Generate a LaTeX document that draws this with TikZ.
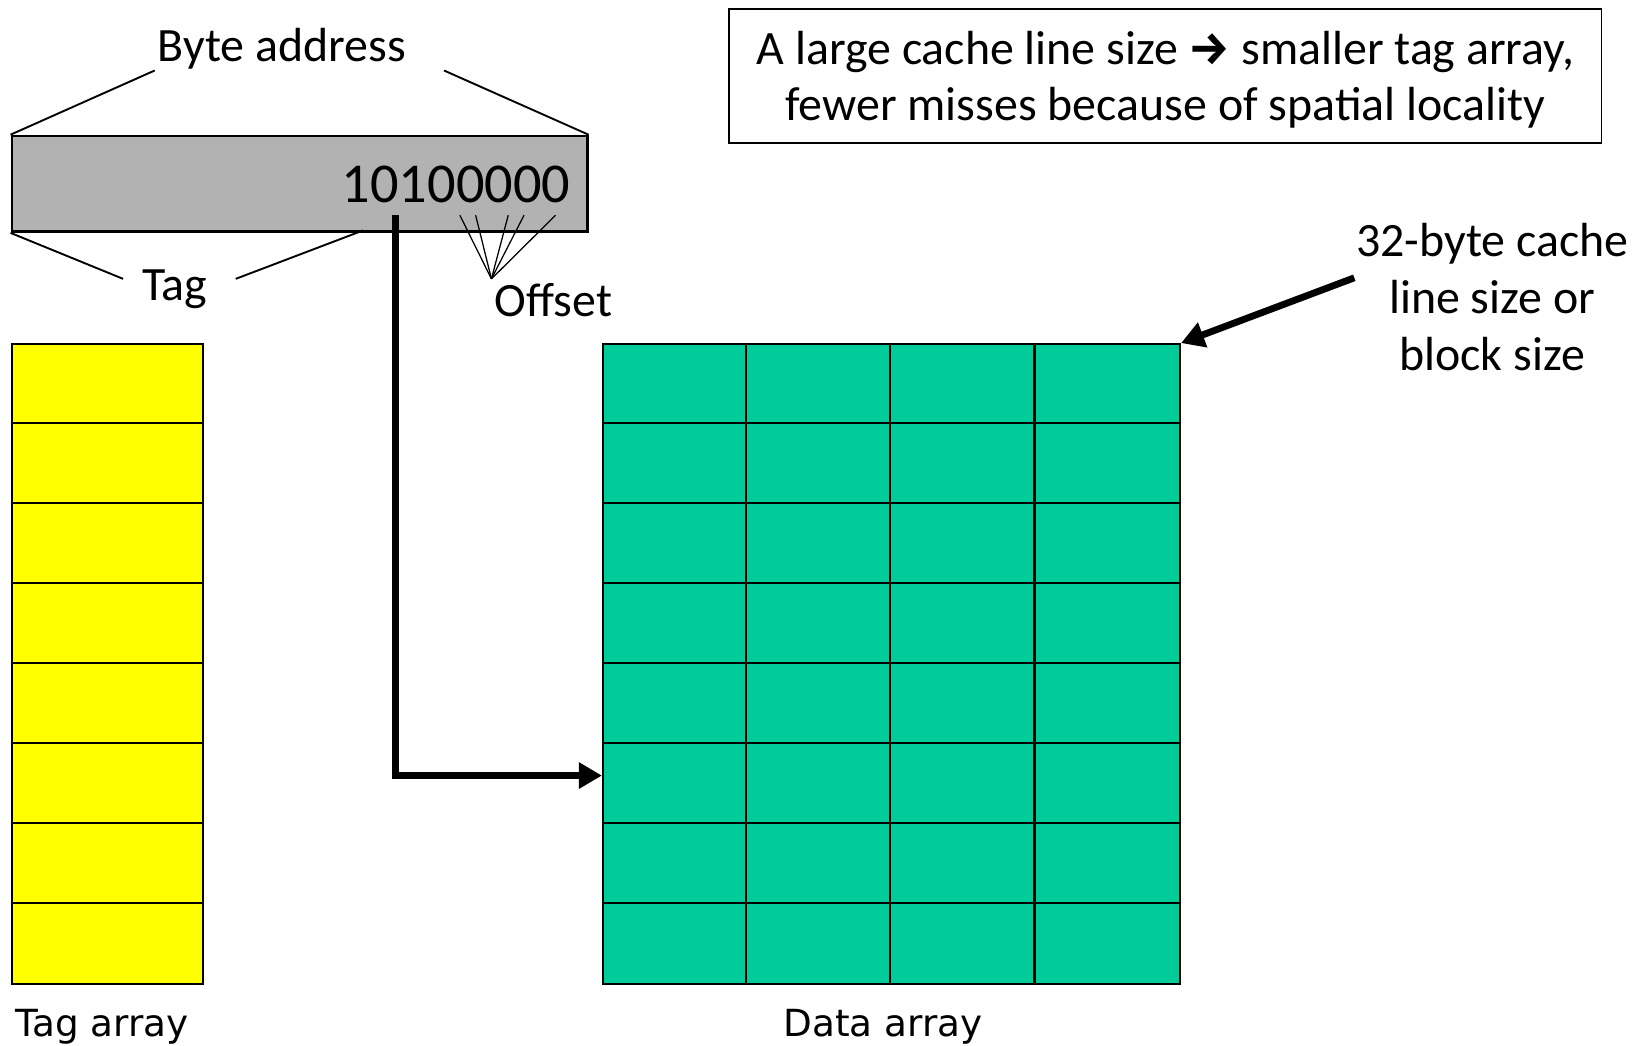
\documentclass[tikz,border=0pt]{standalone}
\usepackage{fontspec}
\setmainfont{Carlito}
\newfontfamily\dvfont{DejaVu Sans}
\newfontfamily\arrowfont{Fira Sans}
\usetikzlibrary{arrows.meta}
\definecolor{bargray}{RGB}{178,178,178}
\definecolor{tagyellow}{RGB}{255,255,0}
\definecolor{datateal}{RGB}{0,204,153}
\begin{document}
\begin{tikzpicture}[x=1pt,y=-1pt,
  thinline/.style={line width=1.8pt},
  hairline/.style={line width=1.2pt},
  thickarrow/.style={line width=6.5pt,-{Triangle[length=22pt,width=24pt]}},
  lbl/.style={font=\fontsize{45.5}{54}\selectfont,inner sep=0pt},
  arraylbl/.style={font=\dvfont\fontsize{35.5}{40}\selectfont,inner sep=0pt,anchor=base},
  gridline/.style={line width=2.3pt},
]
\useasboundingbox (0,0) rectangle (1568,994);

% address bar
\node[draw,line width=2.3pt,fill=bargray,minimum width=547pt,minimum height=91pt,inner sep=0pt,anchor=north west] (addr) at (10,128) {};
\node[font=\fontsize{53.5}{60}\selectfont,anchor=base east,inner sep=0pt] (bits) at (542,192) {10100000};

% Byte address label
\node[lbl,anchor=base] (byte) at (268,58) {Byte address};
\coordinate (bl) at (147,67);
\coordinate (br) at (422,67);
\draw[thinline] (addr.north west) -- (bl);
\draw[thinline] (br) -- (addr.north east);

% Tag label
\node[lbl,anchor=base] (tag) at (166,286) {Tag};
\coordinate (tl) at (117,265);
\coordinate (tr) at (224,265);
\coordinate (tagend) at (345,219);
\draw[thinline] (addr.south west) -- (tl);
\draw[thinline] (tr) -- (tagend);

% Offset label
\node[lbl,anchor=base west] (offset) at (470,301) {Offset};
\coordinate (oc) at (467,265);
\foreach \ox [count=\k] in {437,452,483,498,528} {
  \coordinate (o\k) at (\ox,204.5);
  \draw[hairline] (oc) -- (o\k);
}

% Tag array
\node[draw,line width=2.3pt,fill=tagyellow,minimum width=182pt,minimum height=608pt,inner sep=0pt,anchor=north west] (tagarr) at (10,326) {};
\foreach \i in {1,...,7} {
  \draw[gridline] (10,{326+76*\i}) -- (192,{326+76*\i});
}
\node[arraylbl] (taglbl) at (97,985) {Tag array};

% Data array
\node[draw,line width=2.3pt,fill=datateal,minimum width=548pt,minimum height=608pt,inner sep=0pt,anchor=north west] (dataarr) at (572,326) {};
\foreach \i in {1,...,7} {
  \draw[gridline] (572,{326+76*\i}) -- (1120,{326+76*\i});
}
\foreach \j in {1,2,3} {
  \draw[gridline] ({572+137*\j},326) -- ({572+137*\j},934);
}
\node[arraylbl] (datalbl) at (839,985) {Data array};

% index arrow
\coordinate (idx) at (376,204.5);
\coordinate (row) at (572,737);
\draw[thickarrow] (idx) |- (row);

% note box
\node[draw,thinline,minimum width=829pt,minimum height=127pt,inner sep=0pt,anchor=north west,align=center,font=\fontsize{45.5}{53}\selectfont] (note) at (692,8)
  {\rule{0pt}{38pt}A large cache line size {\arrowfont\bfseries\fontsize{44}{40}\selectfont →} smaller tag array,\\fewer misses because of spatial locality};

% block size label and arrow
\node[lbl,align=center] (blk) at (1418,282) {32-byte cache\\line size or\\block size};
\coordinate (blkarrow) at (1287,264);
\draw[thickarrow] (blkarrow) -- (dataarr.north east);
\end{tikzpicture}
\end{document}
